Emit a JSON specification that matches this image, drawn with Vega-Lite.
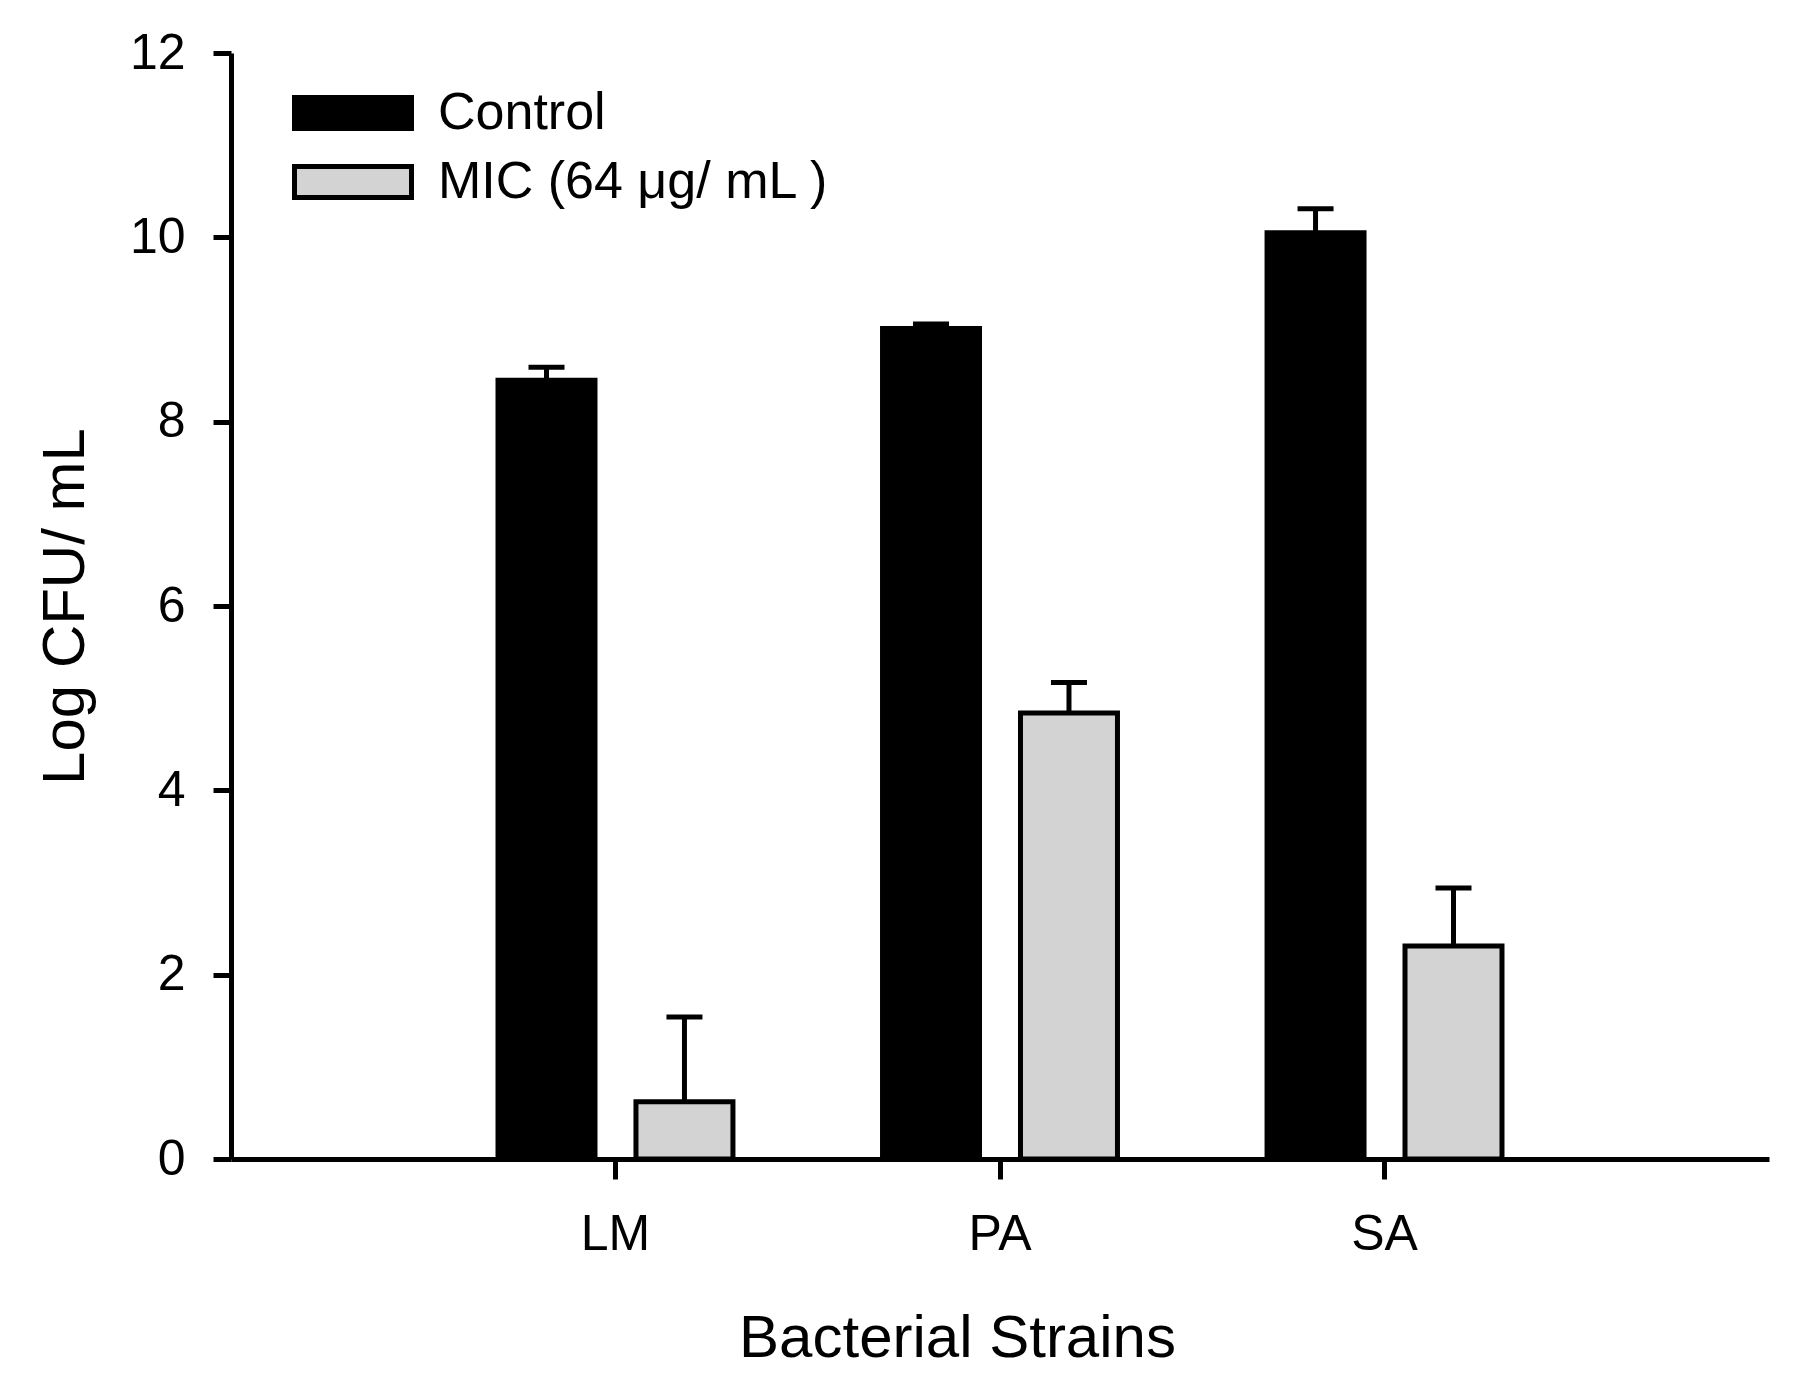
{
  "$schema": "https://vega.github.io/schema/vega-lite/v6.json",
  "description": "Log CFU/mL of three bacterial strains, control vs MIC",
  "width": 1538,
  "height": 1106,
  "autosize": {"type": "none"},
  "padding": {"left": 231, "top": 53, "right": 35, "bottom": 225},
  "background": "white",
  "config": {
    "font": "Liberation Sans",
    "view": {"stroke": null},
    "axis": {
      "domainColor": "black",
      "domainWidth": 5,
      "tickColor": "black",
      "tickWidth": 5,
      "labelColor": "black",
      "titleColor": "black",
      "labelFont": "Liberation Sans",
      "titleFont": "Liberation Sans",
      "labelFontSize": 50,
      "titleFontSize": 60,
      "titleFontWeight": "normal",
      "grid": false
    }
  },
  "data": {
    "values": [
      {"strain": "LM", "group": "Control", "value": 8.45, "upper": 8.59},
      {"strain": "LM", "group": "MIC (64 μg/ mL )", "value": 0.62, "upper": 1.54},
      {"strain": "PA", "group": "Control", "value": 9.01, "upper": 9.06},
      {"strain": "PA", "group": "MIC (64 μg/ mL )", "value": 4.84, "upper": 5.17},
      {"strain": "SA", "group": "Control", "value": 10.05, "upper": 10.31},
      {"strain": "SA", "group": "MIC (64 μg/ mL )", "value": 2.31, "upper": 2.94}
    ]
  },
  "encoding": {
    "x": {
      "field": "strain",
      "type": "nominal",
      "sort": ["LM", "PA", "SA"],
      "scale": {"paddingInner": 0.389, "paddingOuter": 0.6944},
      "axis": {
        "title": "Bacterial Strains",
        "labelAngle": 0,
        "tickSize": 20,
        "labelPadding": 30,
        "titleX": 726,
        "titleY": 197,
        "titleBaseline": "alphabetic",
        "titleAlign": "center"
      }
    },
    "xOffset": {
      "field": "group",
      "type": "nominal",
      "sort": ["Control", "MIC (64 μg/ mL )"],
      "scale": {"paddingInner": 0.297, "paddingOuter": 0}
    }
  },
  "layer": [
    {
      "mark": {"type": "bar", "stroke": "black", "strokeWidth": 5},
      "encoding": {
        "y": {
          "field": "value",
          "type": "quantitative",
          "scale": {"domain": [0, 12], "nice": false},
          "axis": {
            "title": "Log CFU/ mL",
            "values": [0, 2, 4, 6, 8, 10, 12],
            "format": "d",
            "tickSize": 18,
            "labelPadding": 28,
            "titleAngle": -90,
            "titleX": -148,
            "titleY": 553,
            "titleBaseline": "alphabetic",
            "titleAlign": "center"
          }
        },
        "color": {
          "field": "group",
          "type": "nominal",
          "sort": ["Control", "MIC (64 μg/ mL )"],
          "scale": {"domain": ["Control", "MIC (64 μg/ mL )"], "range": ["black", "#d3d3d3"]},
          "legend": {
            "title": null,
            "orient": "none",
            "legendX": 90,
            "legendY": 28,
            "padding": 0,
            "symbolType": "M-2,-0.53H2V0.53H-2Z",
            "symbolSize": 3422,
            "symbolStrokeColor": "black",
            "symbolStrokeWidth": 5,
            "symbolOpacity": 1,
            "labelFont": "Liberation Sans",
            "labelFontSize": 52,
            "labelColor": "black",
            "labelOffset": 53,
            "labelLimit": 600,
            "rowPadding": 11
          }
        }
      }
    },
    {
      "mark": {"type": "rule", "color": "black", "strokeWidth": 5},
      "encoding": {
        "y": {"field": "value", "type": "quantitative"},
        "y2": {"field": "upper"}
      }
    },
    {
      "mark": {"type": "tick", "color": "black", "size": 36, "thickness": 5, "opacity": 1},
      "encoding": {
        "y": {"field": "upper", "type": "quantitative"}
      }
    }
  ]
}
